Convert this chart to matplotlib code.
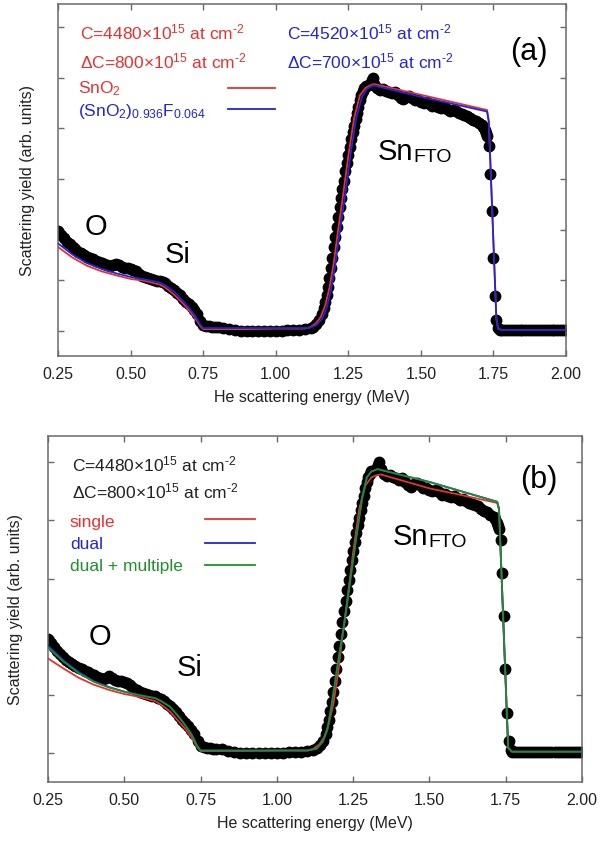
import matplotlib
matplotlib.use("Agg")
import matplotlib.pyplot as plt

plt.rcParams['font.family'] = ['Liberation Sans', 'DejaVu Sans']
plt.rcParams['mathtext.fontset'] = 'custom'
plt.rcParams['mathtext.rm'] = 'Liberation Sans'
plt.rcParams['mathtext.it'] = 'Liberation Sans'

# measured RBS spectrum (energy in MeV, yield in arb. units)
energy = [0.25, 0.26, 0.27, 0.28, 0.29, 0.30, 0.31, 0.32, 0.33, 0.34, 0.35, 0.36, 0.37, 0.38, 0.39,
          0.40, 0.41, 0.42, 0.43, 0.44, 0.45, 0.46, 0.47, 0.48, 0.49, 0.50, 0.51, 0.52, 0.53, 0.54,
          0.55, 0.56, 0.57, 0.58, 0.59, 0.60, 0.61, 0.62, 0.63, 0.64, 0.65, 0.66, 0.67, 0.68, 0.69,
          0.70, 0.71, 0.72, 0.73, 0.74, 0.75, 0.76, 0.77, 0.78, 0.79, 0.80, 0.82, 0.84, 0.86, 0.88,
          0.90, 0.92, 0.94, 0.96, 0.98, 1.00, 1.02, 1.04, 1.06, 1.08, 1.10, 1.12, 1.13, 1.14, 1.15,
          1.16, 1.165, 1.17, 1.175, 1.18, 1.185, 1.19, 1.195, 1.20, 1.205, 1.21, 1.215, 1.22, 1.225,
          1.23, 1.235, 1.24, 1.245, 1.25, 1.255, 1.26, 1.265, 1.27, 1.275, 1.28, 1.285, 1.29, 1.295,
          1.30, 1.305, 1.31, 1.32, 1.325, 1.33, 1.335, 1.34, 1.35, 1.36, 1.37, 1.38, 1.39, 1.40,
          1.41, 1.42, 1.43, 1.44, 1.45, 1.46, 1.47, 1.48, 1.49, 1.50, 1.51, 1.52, 1.53, 1.54, 1.55,
          1.56, 1.57, 1.58, 1.59, 1.60, 1.61, 1.62, 1.63, 1.64, 1.65, 1.66, 1.67, 1.68, 1.69, 1.70,
          1.71, 1.715, 1.72, 1.725, 1.729, 1.733, 1.738, 1.744, 1.748, 1.754, 1.760, 1.766, 1.772,
          1.78, 1.79, 1.80, 1.81, 1.82, 1.83, 1.84, 1.85, 1.86, 1.87, 1.88, 1.89, 1.90, 1.91, 1.92,
          1.93, 1.94, 1.95, 1.96, 1.97, 1.98, 1.99, 2.00]
counts = [1.97, 1.90, 1.83, 1.76, 1.71, 1.66, 1.61, 1.57, 1.54, 1.50, 1.47, 1.45, 1.42, 1.39, 1.37,
          1.35, 1.32, 1.30, 1.28, 1.30, 1.33, 1.30, 1.26, 1.25, 1.24, 1.23, 1.21, 1.18, 1.13, 1.09,
          1.06, 1.04, 1.02, 1.00, 0.99, 0.98, 0.96, 0.94, 0.90, 0.85, 0.81, 0.76, 0.71, 0.64, 0.58,
          0.53, 0.47, 0.41, 0.33, 0.21, 0.13, 0.11, 0.10, 0.09, 0.08, 0.08, 0.07, 0.05, 0.03, 0.01,
          0.00, 0.00, 0.00, 0.01, 0.00, 0.01, 0.01, 0.02, 0.02, 0.03, 0.04, 0.06, 0.09, 0.14, 0.22,
          0.34, 0.45, 0.57, 0.72, 0.88, 1.05, 1.24, 1.45, 1.65, 1.85, 2.05, 2.25, 2.45, 2.62,
          2.80, 2.97, 3.15, 3.32, 3.48, 3.63, 3.78, 3.92, 4.05, 4.18, 4.30, 4.42, 4.55, 4.66,
          4.74, 4.80, 4.84, 4.86, 4.88, 4.95, 5.00, 4.88, 4.80, 4.76, 4.78, 4.74, 4.72, 4.70,
          4.72, 4.66, 4.60, 4.58, 4.62, 4.64, 4.60, 4.55, 4.56, 4.52, 4.50, 4.52, 4.48, 4.44, 4.46,
          4.42, 4.40, 4.42, 4.38, 4.35, 4.36, 4.34, 4.30, 4.28, 4.26, 4.24, 4.20, 4.17, 4.14, 4.10,
          4.06, 4.02, 3.96, 3.90, 3.85, 3.66, 3.10, 2.36, 1.45, 0.70, 0.22, 0.06, 0.02,
          0.02, 0.02, 0.02, 0.02, 0.02, 0.02, 0.02, 0.02, 0.02, 0.02, 0.02, 0.02, 0.02, 0.02, 0.02,
          0.02, 0.02, 0.02, 0.02, 0.02, 0.02, 0.02, 0.02]

# simulations, panel (a)
sno2_E = [0.25, 0.30, 0.35, 0.40, 0.45, 0.50, 0.55, 0.60, 0.62, 0.65, 0.68, 0.70, 0.72, 0.74, 0.75,
          0.80, 0.90, 1.00, 1.10, 1.12, 1.14, 1.155, 1.17, 1.185, 1.20, 1.215, 1.23, 1.25, 1.27,
          1.29, 1.31, 1.33, 1.34, 1.50, 1.728, 1.734, 1.760, 1.766, 1.78, 2.00]
sno2_Y = [1.66, 1.45, 1.29, 1.18, 1.10, 1.03, 0.99, 0.92, 0.86, 0.72, 0.55, 0.42, 0.28, 0.10, 0.04,
          0.04, 0.04, 0.05, 0.05, 0.08, 0.16, 0.28, 0.50, 0.85, 1.35, 2.00, 2.60, 3.45, 4.20,
          4.65, 4.80, 4.86, 4.87, 4.66, 4.36, 4.15, 0.25, 0.05, 0.02, 0.02]
fto_E = [0.25, 0.30, 0.35, 0.40, 0.45, 0.50, 0.55, 0.60, 0.62, 0.65, 0.68, 0.70, 0.72, 0.74, 0.75,
         0.80, 0.90, 1.00, 1.10, 1.12, 1.14, 1.16, 1.175, 1.19, 1.205, 1.22, 1.237, 1.257, 1.277,
         1.297, 1.315, 1.335, 1.34, 1.50, 1.728, 1.734, 1.760, 1.766, 1.78, 2.00]
fto_Y = [1.73, 1.51, 1.34, 1.23, 1.14, 1.07, 1.02, 0.96, 0.90, 0.78, 0.60, 0.47, 0.32, 0.13, 0.06,
         0.06, 0.06, 0.06, 0.06, 0.07, 0.12, 0.24, 0.45, 0.80, 1.30, 1.95, 2.60, 3.45, 4.20,
         4.62, 4.78, 4.84, 4.84, 4.62, 4.33, 4.12, 0.25, 0.05, 0.02, 0.02]

# simulations, panel (b)
single_E = [0.25, 0.30, 0.35, 0.40, 0.45, 0.50, 0.55, 0.60, 0.62, 0.65, 0.68, 0.70, 0.72, 0.74, 0.75,
            0.80, 0.90, 1.00, 1.10, 1.12, 1.14, 1.155, 1.17, 1.185, 1.20, 1.215, 1.23, 1.25, 1.27,
            1.29, 1.31, 1.33, 1.34, 1.50, 1.60, 1.722, 1.728, 1.758, 1.77, 2.00]
single_Y = [1.63, 1.46, 1.30, 1.18, 1.09, 1.02, 0.97, 0.90, 0.84, 0.72, 0.54, 0.42, 0.28, 0.10, 0.04,
            0.04, 0.04, 0.05, 0.05, 0.08, 0.16, 0.28, 0.50, 0.85, 1.35, 2.00, 2.60, 3.45, 4.20,
            4.60, 4.74, 4.78, 4.79, 4.55, 4.44, 4.30, 4.18, 0.10, 0.03, 0.03]
dual_E = [0.25, 0.30, 0.35, 0.40, 0.45, 0.50, 0.55, 0.60, 0.62, 0.65, 0.68, 0.70, 0.72, 0.74, 0.75,
          0.80, 0.90, 1.00, 1.10, 1.13, 1.15, 1.165, 1.18, 1.20, 1.22, 1.24, 1.26, 1.28, 1.295,
          1.31, 1.33, 1.50, 1.722, 1.728, 1.758, 1.77, 2.00]
dual_Y = [1.85, 1.60, 1.40, 1.24, 1.14, 1.06, 1.00, 0.95, 0.90, 0.80, 0.62, 0.48, 0.33, 0.12, 0.05,
          0.05, 0.05, 0.05, 0.05, 0.08, 0.20, 0.40, 0.85, 1.55, 2.20, 2.95, 3.70, 4.40, 4.74,
          4.84, 4.88, 4.66, 4.32, 4.20, 0.10, 0.03, 0.03]
multi_E = [0.25, 0.30, 0.35, 0.40, 0.45, 0.50, 0.55, 0.60, 0.62, 0.65, 0.68, 0.70, 0.72, 0.74, 0.75,
           0.80, 0.90, 1.00, 1.10, 1.13, 1.15, 1.165, 1.18, 1.20, 1.22, 1.24, 1.26, 1.28, 1.295,
           1.31, 1.33, 1.50, 1.722, 1.728, 1.758, 1.77, 2.00]
multi_Y = [1.82, 1.58, 1.38, 1.23, 1.13, 1.06, 1.00, 0.95, 0.90, 0.80, 0.62, 0.48, 0.33, 0.12, 0.05,
           0.05, 0.05, 0.05, 0.05, 0.08, 0.20, 0.40, 0.85, 1.55, 2.20, 2.95, 3.70, 4.40, 4.74,
           4.84, 4.88, 4.66, 4.32, 4.20, 0.10, 0.03, 0.03]

xticks = [0.25, 0.50, 0.75, 1.00, 1.25, 1.50, 1.75, 2.00]
xticklabels = ['0.25', '0.50', '0.75', '1.00', '1.25', '1.50', '1.75', '2.00']

RED = '#e8312f'
BLUE = '#2424d8'
GREEN = '#1f8f2a'
SPINE = '#6a6a6a'

# areal density strings; \text keeps the exponent sign a plain hyphen
C_RED = r'C=4480$\times$10$^{15}$ at cm$^{\text{-2}}$'
DC_RED = r'$\Delta$C=800$\times$10$^{15}$ at cm$^{\text{-2}}$'
C_BLUE = r'C=4520$\times$10$^{15}$ at cm$^{\text{-2}}$'
DC_BLUE = r'$\Delta$C=700$\times$10$^{15}$ at cm$^{\text{-2}}$'

fig = plt.figure(figsize=(6.01, 8.45), dpi=100)
ax_a = fig.add_axes([0.0965, 0.5775, 0.8453, 0.4166])
ax_b = fig.add_axes([0.0799, 0.0734, 0.8885, 0.4095])


def style_axes(ax, ymax, nticks):
    ax.set_xlim(0.25, 2.00)
    ax.set_ylim(-0.49, ymax)
    ax.set_xticks(xticks)
    ax.set_xticklabels(xticklabels)
    ax.set_yticks(range(nticks))
    ax.set_yticklabels([])
    ax.tick_params(direction='in', length=4, width=1, color=SPINE, top=True, right=True,
                   labelsize=11.5, pad=7, labelcolor='#222222')
    for s in ax.spines.values():
        s.set_color(SPINE)
        s.set_linewidth(1.1)
    ax.set_xlabel('He scattering energy (MeV)', fontsize=11.5, labelpad=6, color='#222222')
    ax.set_ylabel('Scattering yield (arb. units)', fontsize=11.5, color='#222222')


# ---- panel (a) ----
ax = ax_a
ax.plot(energy, counts, 'o', color='black', ms=7.5, zorder=2)
ax.plot(sno2_E, sno2_Y, color=RED, lw=1.3, zorder=3)
ax.plot(fto_E, fto_Y, color=BLUE, lw=1.3, zorder=4)
style_axes(ax, 6.45, 7)
ax.yaxis.set_label_coords(-0.046, 0.5)

ax.text(0.043, 0.901, C_RED, color=RED, fontsize=12.5, transform=ax.transAxes, va='baseline')
ax.text(0.043, 0.821, DC_RED, color=RED, fontsize=12.5, transform=ax.transAxes, va='baseline')
ax.text(0.451, 0.901, C_BLUE, color=BLUE, fontsize=12.5, transform=ax.transAxes, va='baseline')
ax.text(0.451, 0.821, DC_BLUE, color=BLUE, fontsize=12.5, transform=ax.transAxes, va='baseline')
ax.text(0.040, 0.750, r'SnO$_2$', color=RED, fontsize=12.5, transform=ax.transAxes, va='baseline')
ax.text(0.040, 0.685, r'(SnO$_2$)$_{0.936}$F$_{0.064}$', color=BLUE, fontsize=12.5,
        transform=ax.transAxes, va='baseline')
ax.plot([0.335, 0.427], [0.761, 0.761], color=RED, lw=1.3, transform=ax.transAxes)
ax.plot([0.335, 0.427], [0.702, 0.702], color=BLUE, lw=1.3, transform=ax.transAxes)

ax.text(0.927, 0.866, '(a)', fontsize=22, transform=ax.transAxes, ha='center', va='center')
ax.text(0.075, 0.369, 'O', fontsize=21, transform=ax.transAxes, ha='center', va='center')
ax.text(0.236, 0.290, 'Si', fontsize=21, transform=ax.transAxes, ha='center', va='center')
sn = ax.text(0.630, 0.560, 'Sn', fontsize=21, transform=ax.transAxes, va='baseline')
ax.annotate('FTO', xy=(1, 0), xycoords=sn, fontsize=14, va='bottom', ha='left')

# ---- panel (b) ----
ax = ax_b
ax.plot(energy, counts, 'o', color='black', ms=7.5, zorder=2)
ax.plot(single_E, single_Y, color=RED, lw=1.3, zorder=3)
ax.plot(dual_E, dual_Y, color=BLUE, lw=1.3, zorder=4)
ax.plot(multi_E, multi_Y, color=GREEN, lw=1.3, zorder=5)
style_axes(ax, 5.45, 6)
ax.yaxis.set_label_coords(-0.047, 0.5)

ax.text(0.045, 0.899, C_RED, color='#222222', fontsize=12.5, transform=ax.transAxes, va='baseline')
ax.text(0.045, 0.821, DC_RED, color='#222222', fontsize=12.5, transform=ax.transAxes, va='baseline')
ax.text(0.041, 0.740, 'single', color=RED, fontsize=12.5, transform=ax.transAxes, va='baseline')
ax.text(0.041, 0.676, 'dual', color=BLUE, fontsize=12.5, transform=ax.transAxes, va='baseline')
ax.text(0.041, 0.613, 'dual + multiple', color=GREEN, fontsize=12.5, transform=ax.transAxes,
        va='baseline')
ax.plot([0.294, 0.388], [0.760, 0.760], color=RED, lw=1.3, transform=ax.transAxes)
ax.plot([0.294, 0.388], [0.691, 0.691], color=BLUE, lw=1.3, transform=ax.transAxes)
ax.plot([0.294, 0.388], [0.627, 0.627], color=GREEN, lw=1.3, transform=ax.transAxes)

ax.text(0.919, 0.876, '(b)', fontsize=22, transform=ax.transAxes, ha='center', va='center')
ax.text(0.097, 0.422, 'O', fontsize=21, transform=ax.transAxes, ha='center', va='center')
ax.text(0.266, 0.332, 'Si', fontsize=21, transform=ax.transAxes, ha='center', va='center')
sn = ax.text(0.646, 0.688, 'Sn', fontsize=21, transform=ax.transAxes, va='baseline')
ax.annotate('FTO', xy=(1, 0), xycoords=sn, fontsize=14, va='bottom', ha='left')

fig.savefig('out.png', dpi=100)
